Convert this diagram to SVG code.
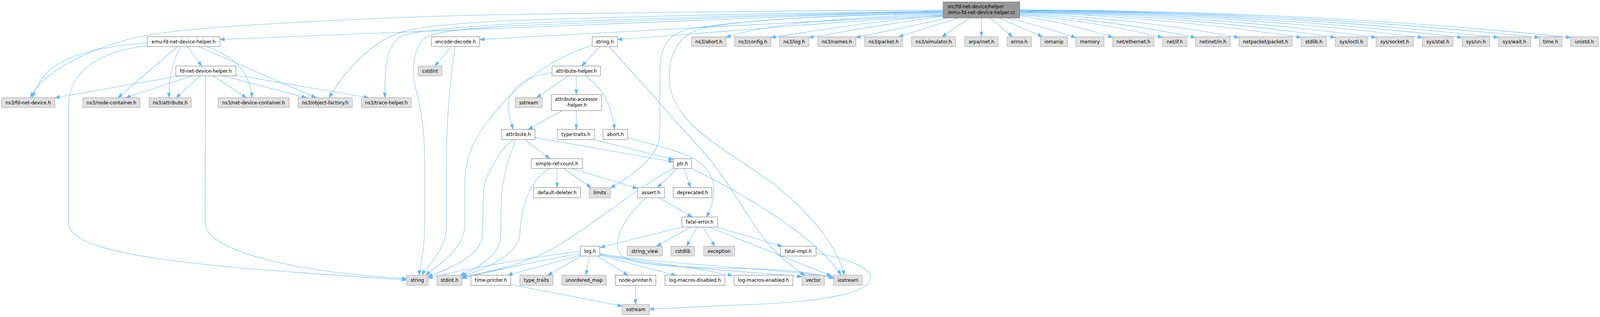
<svg xmlns="http://www.w3.org/2000/svg" width="4423" height="811" viewBox="0 0 4423 811" preserveAspectRatio="none">
<style>
:root{width:100vw;height:100vh}
rect{stroke-width:1}
.u rect{fill:#ffffff;stroke:#666666}
.s rect{fill:#e0e0e0;stroke:#999999}
.r rect{fill:#999999;stroke:#666666}
text{font-family:"DejaVu Sans","Liberation Sans",sans-serif;font-size:13px;fill:#000000;text-anchor:middle}
.r text{text-anchor:start}
#edges path{fill:none;stroke:#63b8ff;stroke-width:1.1;marker-end:url(#arr)}
</style>
<defs>
<marker id="arr" markerUnits="userSpaceOnUse" markerWidth="14" markerHeight="10" viewBox="0 0 14 10" refX="13" refY="5" orient="auto">
<path d="M0,0.4 L13,5 L0,9.6 z" fill="#63b8ff" stroke="#63b8ff" stroke-width="1"/>
</marker>
</defs>
<rect x="0" y="0" width="4423" height="811" fill="#ffffff" stroke="none"/>
<g id="edges">
<path d="M2607,26 C2200,27 1700,31 1400,37 C1150,42 900,52 700,64 C520,74 420,86 370,97 C250,125 120,180 84,250"/>
<path d="M2607,27 L608,101"/>
<path d="M2607,29 C2200,32 1700,43 1400,53 C1250,60 1150,70 1111,82 C1040,100 960,170 910,250"/>
<path d="M2607,30 C2200,34 1700,50 1400,62 C1250,70 1150,80 1110,92 C1070,115 1062,170 1064,250"/>
<path d="M2607,31 C2200,36 1700,55 1400,67 C1300,72 1220,80 1185,92 C1145,110 1135,170 1150,230 C1170,300 1174,360 1174,420 L1174,570 C1174,640 1162,680 1158,704"/>
<path d="M2607,38 C2200,55 1700,85 1326,101"/>
<path d="M2607,41 C2300,55 2000,82 1707,101"/>
<path d="M2607,32 C2300,38 2050,52 1900,75 C1840,90 1824,130 1824,180 L1824,340 C1824,390 1780,430 1688,481"/>
<path d="M2607,34 C2300,40 2000,50 1920,80 C1860,105 1845,160 1852,220 C1870,320 2000,380 2100,445 C2230,530 2310,620 2334,704"/>
<path d="M2607,36 C2300,45 2100,65 2007,96"/>
<path d="M2607,39 C2400,55 2250,80 2131,96"/>
<path d="M2607,42 C2450,60 2330,82 2236,96"/>
<path d="M2618,46 C2530,65 2440,82 2366,96"/>
<path d="M2648,46 L2484,94"/>
<path d="M2680,46 L2604,94"/>
<path d="M2713,46 L2713,94"/>
<path d="M2738,46 L2799,94"/>
<path d="M2761,46 L2882,94"/>
<path d="M2785,46 C2850,60 2920,80 2974,96"/>
<path d="M2819,40 C2920,55 3010,75 3076,96"/>
<path d="M2819,38 C2980,50 3120,75 3214,96"/>
<path d="M2819,36 C3000,45 3180,72 3305,96"/>
<path d="M2819,34 C3050,42 3280,70 3425,96"/>
<path d="M2819,32 C3100,38 3400,68 3597,96"/>
<path d="M2819,31 C3150,36 3480,66 3691,96"/>
<path d="M2819,30 C3200,34 3560,65 3804,96"/>
<path d="M2819,29 C3250,33 3650,63 3932,96"/>
<path d="M2819,28 C3300,31 3720,62 4042,96"/>
<path d="M2819,27 C3350,30 3800,61 4142,96"/>
<path d="M2819,26 C3400,29 3880,60 4255,96"/>
<path d="M2819,25 C3450,28 3950,58 4342,96"/>
<path d="M407,110 C300,117 200,135 147,172 C115,195 98,225 90,250"/>
<path d="M407,117 C280,130 195,180 190,260 L190,570 C190,650 500,680 1124,716"/>
<path d="M491,119 L326,250"/>
<path d="M500,119 C480,150 467,190 467,250"/>
<path d="M518,119 L558,169"/>
<path d="M570,119 C640,140 690,180 697,250"/>
<path d="M548,119 L874,250"/>
<path d="M498,194 L152,250"/>
<path d="M531,194 L348,250"/>
<path d="M554,194 L487,250"/>
<path d="M589,194 L681,250"/>
<path d="M616,194 L847,250"/>
<path d="M652,192 L1019,250"/>
<path d="M568,194 L567,570 C567,640 800,695 1124,713"/>
<path d="M1248,119 L1202,169"/>
<path d="M1258,119 C1245,200 1234,300 1234,420 L1234,580 C1234,640 1180,680 1167,704"/>
<path d="M1659,119 L1608,169"/>
<path d="M1637,116 C1520,150 1420,220 1340,320 C1300,370 1285,420 1285,470 L1285,575 C1285,640 1200,685 1177,704"/>
<path d="M1684,119 L1955,400 C2020,470 2080,580 2130,630 C2170,670 2200,690 2225,704"/>
<path d="M1526,186 C1450,195 1400,230 1405,280 C1408,300 1414,315 1418,331"/>
<path d="M1572,194 L1483,250"/>
<path d="M1593,194 L1593,242"/>
<path d="M1617,194 C1660,220 1690,260 1699,331"/>
<path d="M1554,283 L1460,331"/>
<path d="M1593,283 L1593,331"/>
<path d="M1450,357 L1520,406"/>
<path d="M1479,352 L1861,414"/>
<path d="M1418,357 C1395,375 1378,395 1365,420 C1345,450 1336,470 1336,500 L1334,600 C1330,660 1230,690 1183,708"/>
<path d="M1426,357 C1415,385 1403,410 1397,440 C1390,470 1386,490 1386,510 L1384,607 C1380,660 1300,695 1272,704"/>
<path d="M1641,357 L1861,408"/>
<path d="M1735,353 C1830,375 1890,390 1925,410 C1975,440 1990,490 1953,555"/>
<path d="M1540,431 L1540,480"/>
<path d="M1558,431 L1634,480"/>
<path d="M1581,431 L1762,482"/>
<path d="M1518,431 C1465,460 1440,530 1437,600 C1434,650 1340,690 1277,706"/>
<path d="M1872,431 L1817,480"/>
<path d="M1891,431 L1909,480"/>
<path d="M1861,431 C1760,480 1620,590 1520,640 C1440,680 1330,700 1277,709"/>
<path d="M1912,431 C2000,472 2100,520 2200,590 C2270,640 2310,680 2325,704"/>
<path d="M1822,506 L1913,555"/>
<path d="M1785,506 C1740,545 1705,590 1707,630 C1710,680 1800,682 2100,688 C2200,692 2260,700 2304,712"/>
<path d="M1885,581 L1659,633"/>
<path d="M1909,581 L1815,630"/>
<path d="M1927,581 L1898,630"/>
<path d="M1944,581 L1976,630"/>
<path d="M1980,581 L2162,630"/>
<path d="M1960,581 L2298,706"/>
<path d="M1604,643 C1450,660 1250,695 1183,712"/>
<path d="M1604,649 C1500,665 1350,695 1277,712"/>
<path d="M1604,653 L1404,704"/>
<path d="M1606,656 L1514,704"/>
<path d="M1629,656 L1620,704"/>
<path d="M1653,656 L1736,704"/>
<path d="M1658,653 L1869,705"/>
<path d="M1658,652 C1800,670 1950,690 2025,705"/>
<path d="M1658,650 C1800,685 2050,692 2217,708"/>
<path d="M1658,648 C1800,675 2100,683 2304,709"/>
<path d="M1412,728 L1720,783"/>
<path d="M1757,730 L1757,779"/>
<path d="M2256,648 C2340,660 2410,685 2407,712 C2404,745 2300,770 2100,778 C1980,784 1860,789 1795,791"/>
</g>
<g id="n-root" class="r"><rect x="2607" y="5" width="212" height="41"/><text x="2620" y="21">src/fd-net-device/helper</text><text x="2620" y="36">/emu-fd-net-device-helper.cc</text></g>
<g id="n-emu" class="u"><rect x="407" y="94" width="201" height="25"/><text x="507.5" y="111">emu-fd-net-device-helper.h</text></g>
<g id="n-encode" class="u"><rect x="1193" y="94" width="133" height="25"/><text x="1259.5" y="111">encode-decode.h</text></g>
<g id="n-stringh" class="u"><rect x="1637" y="94" width="70" height="25"/><text x="1672" y="111">string.h</text></g>
<g id="n-ns3abort" class="s"><rect x="1912" y="94" width="95" height="25"/><text x="1959.5" y="111">ns3/abort.h</text></g>
<g id="n-config" class="s"><rect x="2031" y="94" width="100" height="25"/><text x="2081" y="111">ns3/config.h</text></g>
<g id="n-ns3log" class="s"><rect x="2155" y="94" width="81" height="25"/><text x="2195.5" y="111">ns3/log.h</text></g>
<g id="n-names" class="s"><rect x="2261" y="94" width="105" height="25"/><text x="2313.5" y="111">ns3/names.h</text></g>
<g id="n-packet" class="s"><rect x="2390" y="94" width="105" height="25"/><text x="2442.5" y="111">ns3/packet.h</text></g>
<g id="n-simulator" class="s"><rect x="2520" y="94" width="122" height="25"/><text x="2581" y="111">ns3/simulator.h</text></g>
<g id="n-inet" class="s"><rect x="2667" y="94" width="92" height="25"/><text x="2713" y="111">arpa/inet.h</text></g>
<g id="n-errno" class="s"><rect x="2784" y="94" width="67" height="25"/><text x="2817.5" y="111">errno.h</text></g>
<g id="n-iomanip" class="s"><rect x="2876" y="94" width="75" height="25"/><text x="2913.5" y="111">iomanip</text></g>
<g id="n-memory" class="s"><rect x="2974" y="94" width="78" height="25"/><text x="3013" y="111">memory</text></g>
<g id="n-ethernet" class="s"><rect x="3076" y="94" width="114" height="25"/><text x="3133" y="111">net/ethernet.h</text></g>
<g id="n-netif" class="s"><rect x="3214" y="94" width="67" height="25"/><text x="3247.5" y="111">net/if.h</text></g>
<g id="n-netinet" class="s"><rect x="3305" y="94" width="96" height="25"/><text x="3353" y="111">netinet/in.h</text></g>
<g id="n-netpacket" class="s"><rect x="3425" y="94" width="147" height="25"/><text x="3498.5" y="111">netpacket/packet.h</text></g>
<g id="n-stdlib" class="s"><rect x="3597" y="94" width="70" height="25"/><text x="3632" y="111">stdlib.h</text></g>
<g id="n-ioctl" class="s"><rect x="3691" y="94" width="89" height="25"/><text x="3735.5" y="111">sys/ioctl.h</text></g>
<g id="n-socket" class="s"><rect x="3804" y="94" width="103" height="25"/><text x="3855.5" y="111">sys/socket.h</text></g>
<g id="n-stat" class="s"><rect x="3932" y="94" width="85" height="25"/><text x="3974.5" y="111">sys/stat.h</text></g>
<g id="n-un" class="s"><rect x="4042" y="94" width="76" height="25"/><text x="4080" y="111">sys/un.h</text></g>
<g id="n-wait" class="s"><rect x="4142" y="94" width="89" height="25"/><text x="4186.5" y="111">sys/wait.h</text></g>
<g id="n-time" class="s"><rect x="4255" y="94" width="63" height="25"/><text x="4286.5" y="111">time.h</text></g>
<g id="n-unistd" class="s"><rect x="4342" y="94" width="76" height="25"/><text x="4380" y="111">unistd.h</text></g>
<g id="n-fdhelper" class="u"><rect x="486" y="169" width="166" height="25"/><text x="569" y="186">fd-net-device-helper.h</text></g>
<g id="n-cstdint" class="s"><rect x="1156" y="169" width="66" height="25"/><text x="1189" y="186">cstdint</text></g>
<g id="n-attrhelper" class="u"><rect x="1526" y="169" width="134" height="25"/><text x="1593" y="186">attribute-helper.h</text></g>
<g id="n-fdnd" class="s"><rect x="4" y="250" width="148" height="25"/><text x="78" y="267">ns3/fd-net-device.h</text></g>
<g id="n-nodecont" class="s"><rect x="229" y="250" width="158" height="25"/><text x="308" y="267">ns3/node-container.h</text></g>
<g id="n-nsattr" class="s"><rect x="412" y="250" width="117" height="25"/><text x="470.5" y="267">ns3/attribute.h</text></g>
<g id="n-ndc" class="s"><rect x="603" y="250" width="196" height="25"/><text x="701" y="267">ns3/net-device-container.h</text></g>
<g id="n-objfac" class="s"><rect x="824" y="250" width="150" height="25"/><text x="899" y="267">ns3/object-factory.h</text></g>
<g id="n-trace" class="s"><rect x="999" y="250" width="138" height="25"/><text x="1068" y="267">ns3/trace-helper.h</text></g>
<g id="n-sstream" class="s"><rect x="1424" y="250" width="75" height="25"/><text x="1461.5" y="267">sstream</text></g>
<g id="n-accessor" class="u"><rect x="1524" y="242" width="139" height="41"/><text x="1593.5" y="258">attribute-accessor</text><text x="1593.5" y="273">-helper.h</text></g>
<g id="n-attribute" class="u"><rect x="1387" y="331" width="92" height="26"/><text x="1433" y="348">attribute.h</text></g>
<g id="n-typetraits" class="u"><rect x="1541" y="331" width="102" height="26"/><text x="1592" y="348">type-traits.h</text></g>
<g id="n-aborth" class="u"><rect x="1667" y="331" width="68" height="26"/><text x="1701" y="348">abort.h</text></g>
<g id="n-src" class="u"><rect x="1469" y="406" width="141" height="25"/><text x="1539.5" y="423">simple-ref-count.h</text></g>
<g id="n-ptr" class="u"><rect x="1861" y="406" width="51" height="25"/><text x="1886.5" y="423">ptr.h</text></g>
<g id="n-deleter" class="u"><rect x="1475" y="480" width="130" height="26"/><text x="1540" y="497">default-deleter.h</text></g>
<g id="n-limits" class="s"><rect x="1629" y="480" width="58" height="26"/><text x="1658" y="497">limits</text></g>
<g id="n-assert" class="u"><rect x="1762" y="480" width="75" height="26"/><text x="1799.5" y="497">assert.h</text></g>
<g id="n-deprecated" class="u"><rect x="1861" y="480" width="107" height="26"/><text x="1914.5" y="497">deprecated.h</text></g>
<g id="n-fatalerror" class="u"><rect x="1885" y="555" width="98" height="26"/><text x="1934" y="572">fatal-error.h</text></g>
<g id="n-log" class="u"><rect x="1604" y="630" width="54" height="25"/><text x="1631" y="647">log.h</text></g>
<g id="n-stringview" class="s"><rect x="1734" y="630" width="97" height="25"/><text x="1782.5" y="647">string_view</text></g>
<g id="n-cstdlib" class="s"><rect x="1855" y="630" width="65" height="25"/><text x="1887.5" y="647">cstdlib</text></g>
<g id="n-exception" class="s"><rect x="1945" y="630" width="86" height="25"/><text x="1988" y="647">exception</text></g>
<g id="n-fatalimpl" class="u"><rect x="2157" y="630" width="99" height="25"/><text x="2206.5" y="647">fatal-impl.h</text></g>
<g id="n-string" class="s"><rect x="1124" y="704" width="59" height="26"/><text x="1153.5" y="721">string</text></g>
<g id="n-stdint" class="s"><rect x="1208" y="704" width="69" height="26"/><text x="1242.5" y="721">stdint.h</text></g>
<g id="n-timeprinter" class="u"><rect x="1302" y="704" width="110" height="26"/><text x="1357" y="721">time-printer.h</text></g>
<g id="n-typetraitsstd" class="s"><rect x="1437" y="704" width="92" height="26"/><text x="1483" y="721">type_traits</text></g>
<g id="n-umap" class="s"><rect x="1553" y="704" width="123" height="26"/><text x="1614.5" y="721">unordered_map</text></g>
<g id="n-nodeprinter" class="u"><rect x="1701" y="704" width="112" height="26"/><text x="1757" y="721">node-printer.h</text></g>
<g id="n-lmd" class="u"><rect x="1838" y="704" width="166" height="26"/><text x="1921" y="721">log-macros-disabled.h</text></g>
<g id="n-lme" class="u"><rect x="2029" y="704" width="163" height="26"/><text x="2110.5" y="721">log-macros-enabled.h</text></g>
<g id="n-vector" class="s"><rect x="2217" y="704" width="62" height="26"/><text x="2248" y="721">vector</text></g>
<g id="n-iostream" class="s"><rect x="2304" y="704" width="80" height="26"/><text x="2344" y="721">iostream</text></g>
<g id="n-ostream" class="s"><rect x="1720" y="779" width="75" height="26"/><text x="1757.5" y="796">ostream</text></g>
</svg>
